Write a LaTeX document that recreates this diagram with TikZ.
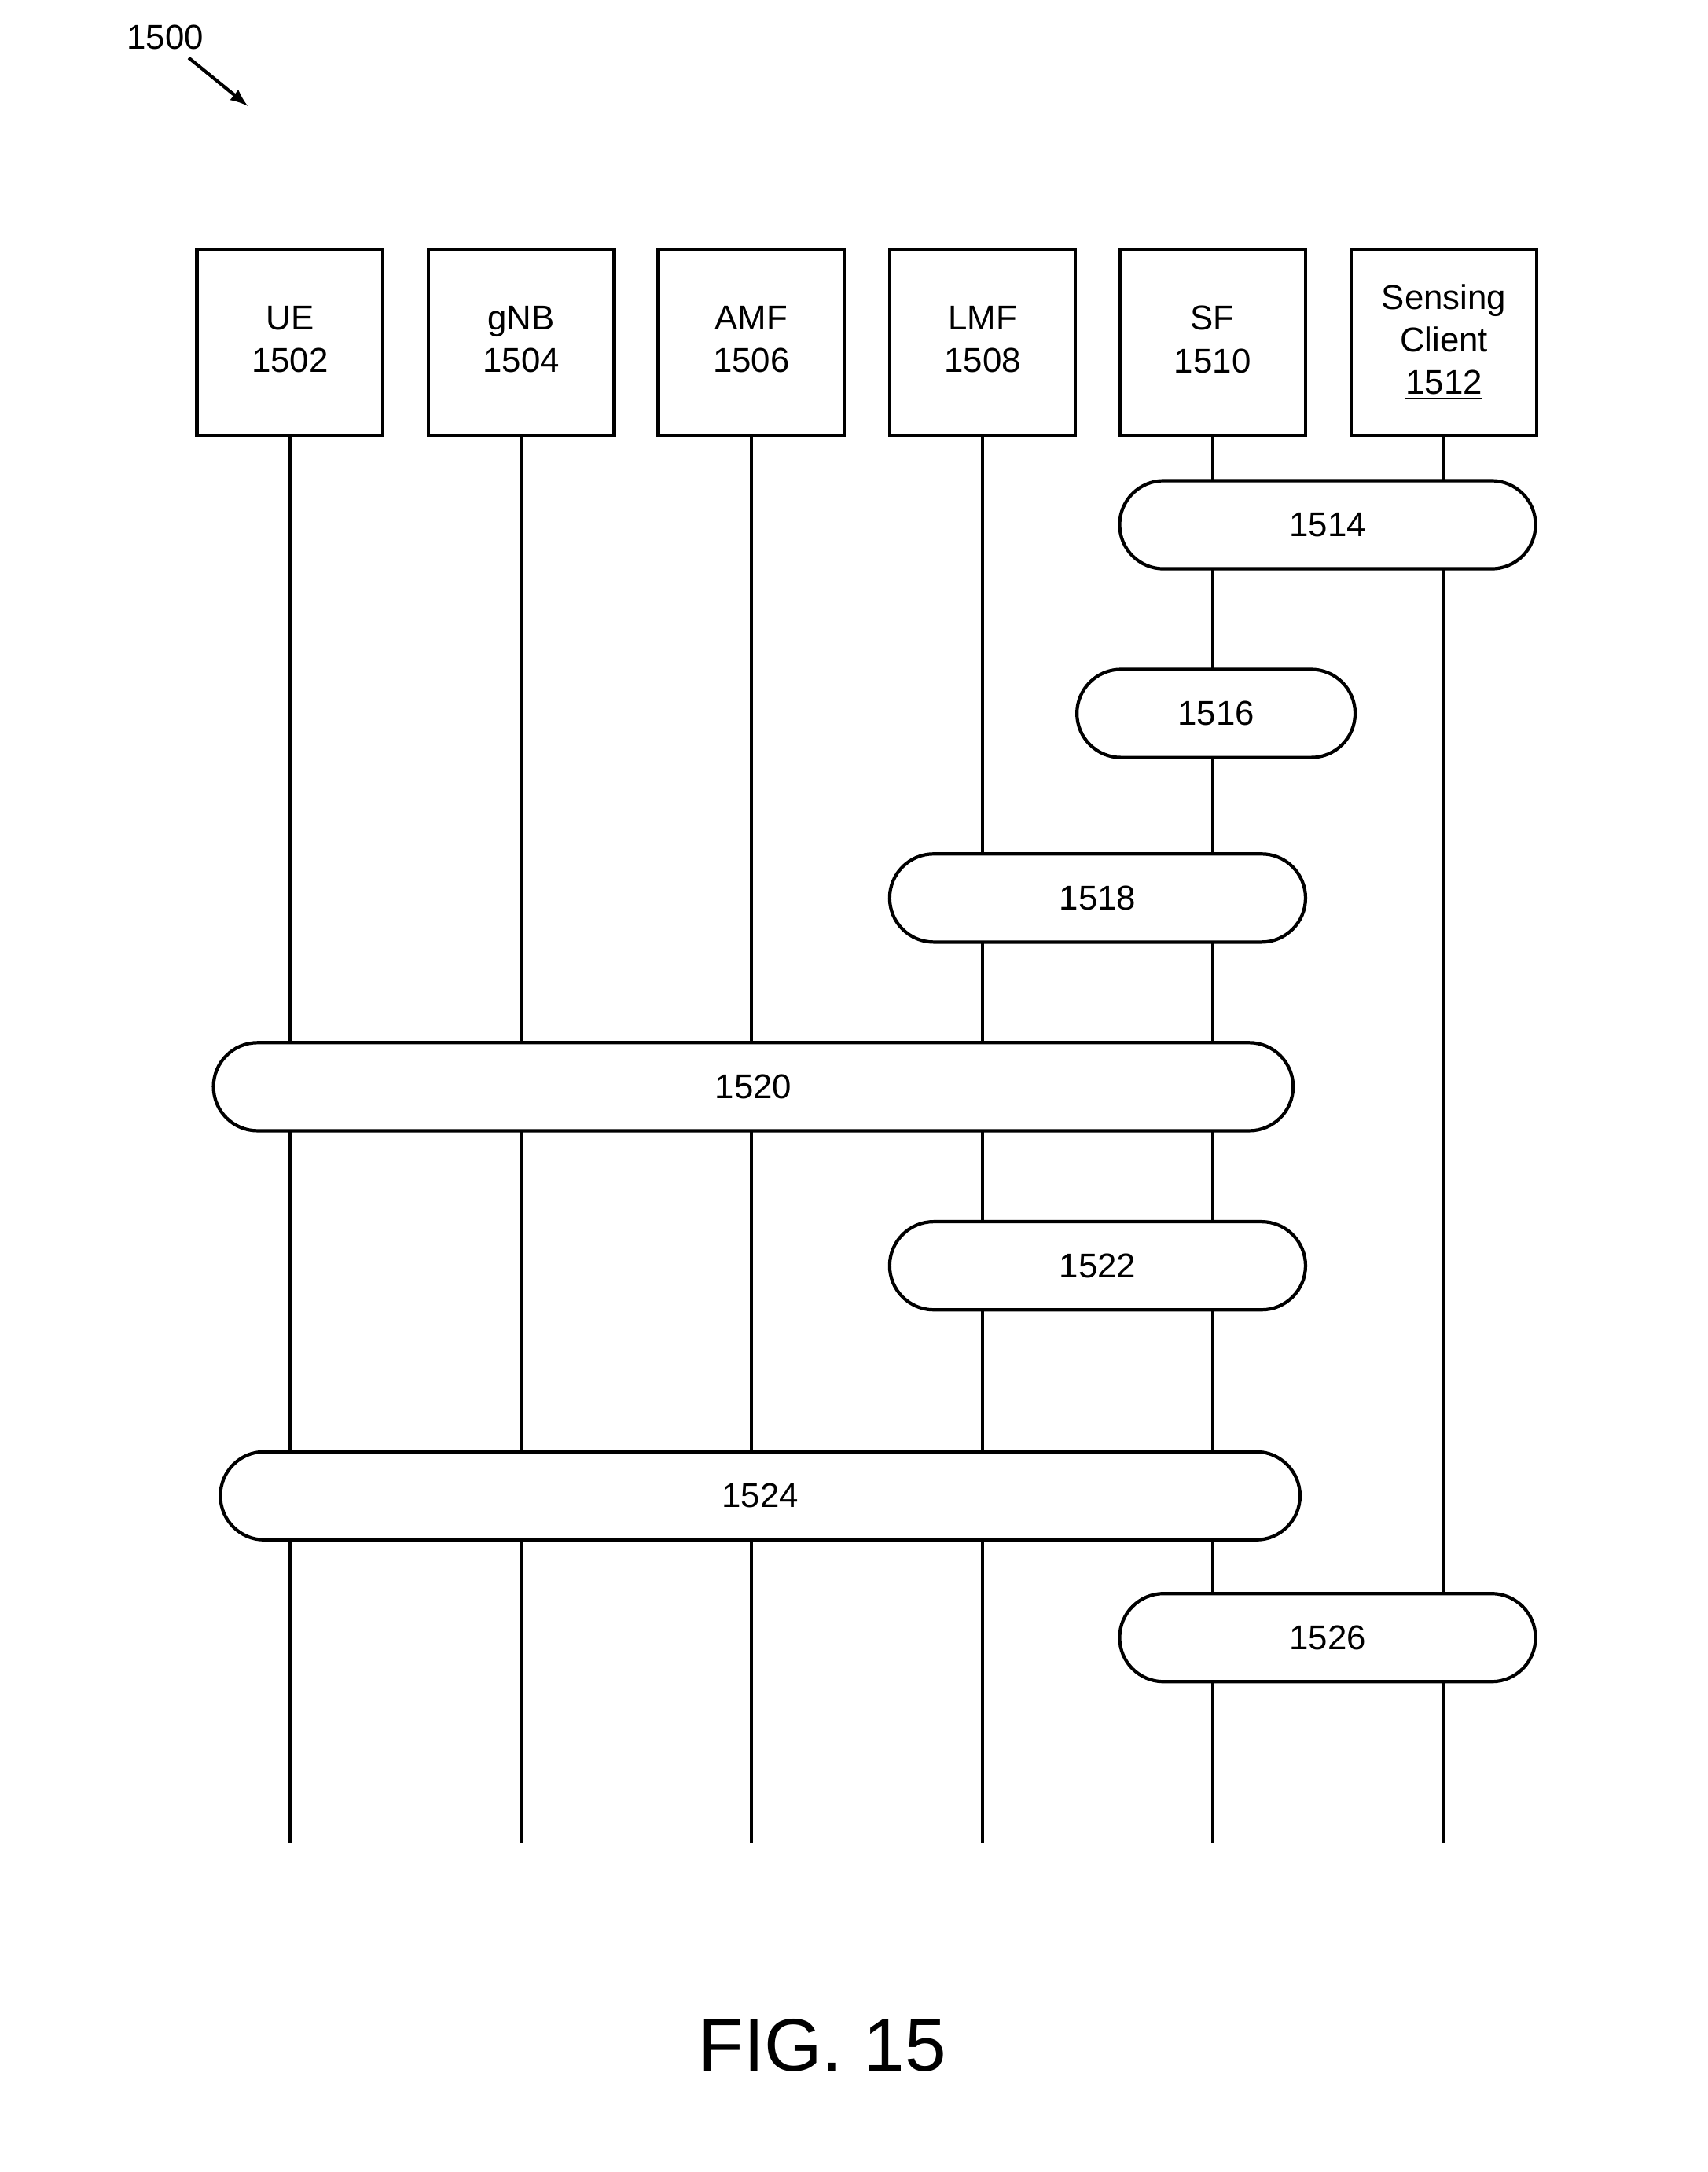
\documentclass[tikz,border=0pt]{standalone}
\usepackage{fontspec}
\setmainfont{Liberation Sans}
\begin{document}
\begin{tikzpicture}[x=0.5pt,y=-0.5pt,line width=1.2pt,
 ent/.style={draw,minimum width=67.5pt,minimum height=67.5pt,align=center,font=\fontsize{12.5}{15.5}\selectfont,inner sep=0pt},
 pill/.style={draw,fill=white,rounded corners=16pt,font=\fontsize{12.5}{15}\selectfont}]
\useasboundingbox (0,0) rectangle (1240,1577);
\node[font=\fontsize{12.5}{15}\selectfont] (lbl) at (120,27) {1500};
\coordinate (a1) at (137,42);
\coordinate (a2) at (180,77);
\draw[-latex] (a1) -- (a2);
\foreach \n/\x/\t in {ue/210.5/{UE\\\underline{1502}},gnb/378.5/{gNB\\\underline{1504}},amf/545.5/{AMF\\\underline{1506}},lmf/713.5/{LMF\\\underline{1508}},sf/880.5/{SF\\\underline{1510}},sc/1048.5/{Sensing\\Client\\\underline{1512}}}{
 \node[ent] (\n) at (\x,248.5) {\t};
 \coordinate (\n e) at (\x,1338);
 \draw (\n.south) -- (\n e);
}
\foreach \nm/\xa/\xb/\ya in {p1514/813/1115/349,p1516/782/984/486,p1518/646/948/620,p1520/155/939/757,p1522/646/948/887,p1524/160/944/1054,p1526/813/1115/1157}{
 \draw[pill] (\xa,\ya) rectangle (\xb,\ya+64);
}
\node[font=\fontsize{12.5}{15}\selectfont] (t1514) at (964,381) {1514};
\node[font=\fontsize{12.5}{15}\selectfont] (t1516) at (883,518) {1516};
\node[font=\fontsize{12.5}{15}\selectfont] (t1518) at (797,652) {1518};
\node[font=\fontsize{12.5}{15}\selectfont] (t1520) at (547,789) {1520};
\node[font=\fontsize{12.5}{15}\selectfont] (t1522) at (797,919) {1522};
\node[font=\fontsize{12.5}{15}\selectfont] (t1524) at (552,1086) {1524};
\node[font=\fontsize{12.5}{15}\selectfont] (t1526) at (964,1189) {1526};
\node[font=\fontsize{27}{30}\selectfont] (fig) at (597,1485) {FIG. 15};
\end{tikzpicture}
\end{document}
